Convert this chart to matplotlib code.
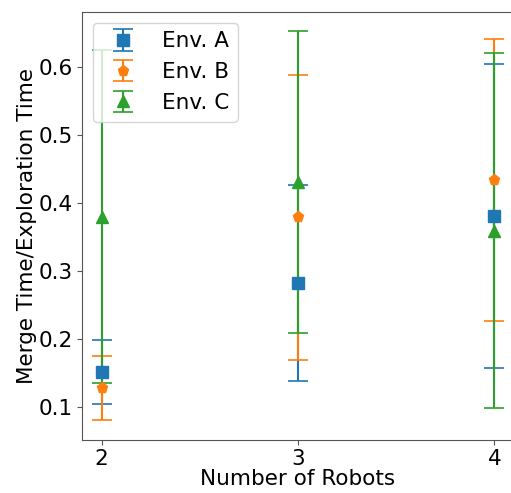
import matplotlib.pyplot as plt

robots = [2, 3, 4]

env_a_mean = [0.152, 0.282, 0.381]
env_a_err = [0.047, 0.144, 0.223]

env_b_mean = [0.128, 0.379, 0.434]
env_b_err = [0.047, 0.210, 0.208]

env_c_mean = [0.380, 0.431, 0.359]
env_c_err = [0.245, 0.222, 0.261]

labels = ['Env. A', 'Env. B', 'Env. C']
markers = ['s', 'p', '^']
colors = ['#1f77b4', '#ff7f0e', '#2ca02c']

fig = plt.figure(figsize=(5.11, 4.93), dpi=100)
# axes runs a bit past the right edge, as in the reference crop
ax = fig.add_axes([82 / 511, 53 / 493, 432 / 511, 428 / 493])

series = [(env_a_mean, env_a_err), (env_b_mean, env_b_err), (env_c_mean, env_c_err)]
for (mean, err), lab, mk, col in zip(series, labels, markers, colors):
    ax.errorbar(robots, mean, yerr=err, fmt=mk, color=col, label=lab,
                markersize=8, capsize=7, elinewidth=1.5, capthick=1.2)

ax.set_xticks(robots)
ax.set_xlim(1.9, 4.1)
ax.set_ylim(0.0515, 0.681)
ax.set_yticks([0.1, 0.2, 0.3, 0.4, 0.5, 0.6])
for sp in ax.spines.values():
    sp.set_color('#555555')
ax.tick_params(labelsize=15.5, color='#555555', length=3.5, pad=3)
ax.set_xlabel('Number of Robots', fontsize=15.5, labelpad=0)
ax.set_ylabel('Merge Time/Exploration Time', fontsize=15.5, labelpad=1)
ax.legend(loc='upper left', fontsize=15.5)

fig.savefig('out.png', dpi=100)
